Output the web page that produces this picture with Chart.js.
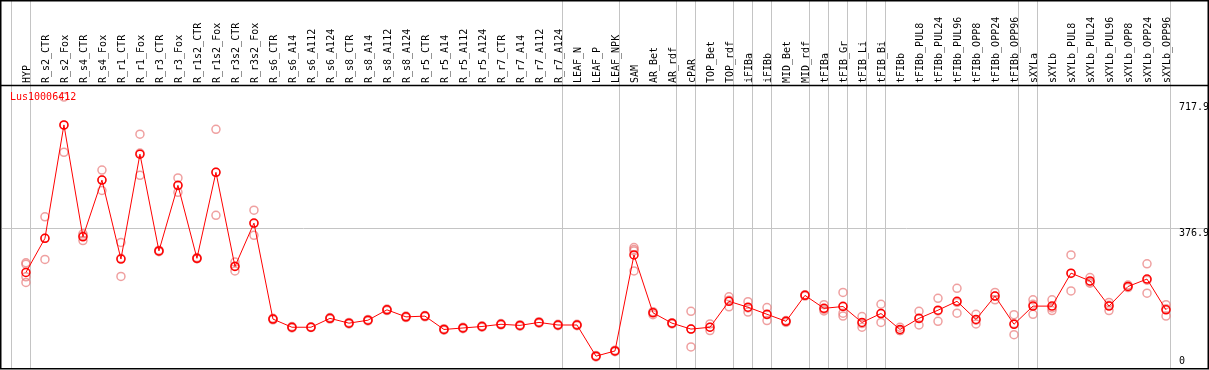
<!DOCTYPE html>
<html>
<head>
<meta charset="utf-8">
<script src="https://cdn.jsdelivr.net/npm/chart.js@4/dist/chart.umd.min.js"></script>
<style>
  body { margin: 0; background: #fff; }
</style>
</head>
<body>
<canvas id="myChart" width="1209" height="370"></canvas>
<script>
const geneId = 'Lus10006412';

const categories = ['HYP', 'R_s2_CTR', 'R_s2_Fox', 'R_s4_CTR', 'R_s4_Fox', 'R_r1_CTR', 'R_r1_Fox',
  'R_r3_CTR', 'R_r3_Fox', 'R_r1s2_CTR', 'R_r1s2_Fox', 'R_r3s2_CTR', 'R_r3s2_Fox',
  'R_s6_CTR', 'R_s6_A14', 'R_s6_A112', 'R_s6_A124', 'R_s8_CTR', 'R_s8_A14', 'R_s8_A112', 'R_s8_A124',
  'R_r5_CTR', 'R_r5_A14', 'R_r5_A112', 'R_r5_A124', 'R_r7_CTR', 'R_r7_A14', 'R_r7_A112', 'R_r7_A124',
  'LEAF_N', 'LEAF_P', 'LEAF_NPK', 'SAM', 'AR_Bet', 'AR_rdf', 'cPAR', 'TOP_Bet', 'TOP_rdf',
  'iFIBa', 'iFIBb', 'MID_Bet', 'MID_rdf', 'tFIBa', 'tFIB_Gr', 'tFIB_Li', 'tFIB_Bi', 'tFIBb',
  'tFIBb_PUL8', 'tFIBb_PUL24', 'tFIBb_PUL96', 'tFIBb_OPP8', 'tFIBb_OPP24', 'tFIBb_OPP96',
  'sXYLa', 'sXYLb', 'sXYLb_PUL8', 'sXYLb_PUL24', 'sXYLb_PUL96', 'sXYLb_OPP8', 'sXYLb_OPP24', 'sXYLb_OPP96'];

const means = [258, 350, 656, 354, 507, 294, 577, 316, 493, 296, 528, 274, 391,
  132, 110, 110, 134, 121, 129, 157, 138, 140, 104, 108, 112, 118, 115, 123, 116,
  116, 32, 46, 305, 149, 121, 105, 110, 180, 164, 145, 126, 196, 161, 166, 123, 147, 104,
  134, 156, 180, 131, 194, 118, 167, 167, 256, 235, 167, 220, 240, 157];

const replicates = [
  [284, 280, 246, 231], [408, 350, 293], [731, 655, 582], [362, 357, 344], [534, 507, 479],
  [339, 296, 247], [631, 580, 520], [318, 316, 314], [513, 492, 474], [298, 295, 295],
  [644, 528, 412], [286, 275, 262], [426, 390, 358],
  [134, 132, 130], [112, 110, 108], [111, 110, 109], [136, 134, 132], [123, 121, 119],
  [131, 129, 127], [159, 157, 155], [140, 138, 136], [142, 140, 138], [106, 104, 102],
  [110, 108, 106], [114, 112, 110], [120, 118, 116], [117, 115, 113], [125, 123, 121],
  [118, 116, 114], [118, 116, 114], [34, 32, 30], [48, 46, 44],
  [325, 320, 316, 262], [152, 150, 144], [122, 121, 119], [153, 105, 57], [119, 110, 101],
  [192, 183, 165], [179, 162, 151], [163, 144, 128], [128, 126, 123], [198, 196, 194],
  [171, 158, 154], [204, 167, 148, 140], [139, 120, 110], [172, 147, 123], [110, 101, 101],
  [153, 133, 116], [188, 154, 126], [215, 177, 148], [145, 129, 119], [204, 194, 184],
  [144, 120, 90], [184, 172, 145], [184, 162, 155], [305, 255, 208], [244, 232, 229],
  [177, 169, 155], [224, 220, 217], [281, 237, 202], [171, 160, 140]];

const yTicks = [0, 376.9, 717.9];

// the sample groups end after these indexes
const groupEnds = [-1, 0, 28, 31, 34, 35, 37, 38, 39, 41, 42, 43, 44, 45, 52, 53, 60];

const monoFont = { family: 'DejaVu Sans Mono', size: 10 };
const gridGray = '#c4c4c4';

const frame = {
  id: 'frame',
  beforeDatasetsDraw(chart) {
    const { ctx, scales: { x }, chartArea } = chart;
    ctx.save();
    ctx.strokeStyle = gridGray;
    ctx.lineWidth = 1;
    groupEnds.forEach(i => {
      const px = Math.round(x.getPixelForValue(i + 0.21)) + 0.5;
      ctx.beginPath();
      ctx.moveTo(px, 0);
      ctx.lineTo(px, chartArea.bottom);
      ctx.stroke();
    });
    ctx.restore();
  },
  afterDraw(chart) {
    const { ctx, chartArea } = chart;
    ctx.save();
    ctx.strokeStyle = '#000';
    ctx.lineWidth = 1.5;
    ctx.strokeRect(0.75, 0.75, chartArea.right - 0.5, chartArea.bottom);
    ctx.beginPath();
    ctx.moveTo(0, chartArea.top - 0.5);
    ctx.lineTo(chartArea.right, chartArea.top - 0.5);
    ctx.stroke();
    ctx.fillStyle = 'red';
    ctx.font = '10px "DejaVu Sans Mono"';
    ctx.textBaseline = 'top';
    ctx.fillText(chart.data.datasets[0].label, 10, chartArea.top + 6);
    ctx.restore();
  }
};

const ctx = document.querySelector('#myChart');

const graphData = {
  type: 'line',
  data: {
    datasets: [{
      label: geneId,
      data: means.map((v, i) => ({ x: i, y: v })),
      borderColor: 'red',
      borderWidth: 1,
      pointRadius: 4,
      pointBorderWidth: 1.5,
      pointBorderColor: 'red',
      pointBackgroundColor: 'rgba(0,0,0,0)',
      tension: 0
    }, {
      label: 'replicates',
      data: replicates.flatMap((r, i) => r.map(v => ({ x: i, y: v }))),
      showLine: false,
      pointRadius: 4,
      pointBorderWidth: 1.5,
      pointBorderColor: 'rgba(232,120,120,0.7)',
      pointBackgroundColor: 'rgba(0,0,0,0)'
    }]
  },
  options: {
    responsive: false,
    animation: false,
    layout: { autoPadding: false, padding: { left: 2, right: 1, top: 0, bottom: 2 } },
    plugins: { legend: { display: false }, tooltip: { enabled: false } },
    scales: {
      x: {
        type: 'linear',
        position: 'top',
        min: -1.26,
        max: 62.21,
        afterBuildTicks: scale => { scale.ticks = categories.map((c, i) => ({ value: i })); },
        afterFit: scale => {
          scale.height = 86;
          scale.paddingLeft = 0;
          scale.paddingRight = 0;
        },
        grid: { display: false, drawTicks: false },
        border: { display: false },
        ticks: {
          autoSkip: false,
          minRotation: 90,
          maxRotation: 90,
          padding: 3,
          labelOffset: 13,
          color: '#000',
          font: monoFont,
          callback: v => categories[v]
        }
      },
      y: {
        position: 'right',
        min: 0,
        max: 761,
        afterBuildTicks: scale => { scale.ticks = yTicks.map(v => ({ value: v })); },
        afterFit: scale => {
          scale.width = 0;
          scale.paddingTop = 0;
          scale.paddingBottom = 0;
        },
        grid: {
          drawTicks: false,
          color: c => c.tick && c.tick.value === yTicks[1] ? gridGray : 'rgba(0,0,0,0)'
        },
        border: { display: false },
        ticks: {
          mirror: true,
          padding: 1,
          labelOffset: 5,
          color: '#000',
          font: monoFont,
          // labels sit left-aligned in the reference; pad the short one
          callback: v => v === 0 ? ['0    ', '', ''] : String(v)
        }
      }
    }
  },
  plugins: [frame]
};

const myChart = new Chart(ctx, graphData);
</script>
</body>
</html>
